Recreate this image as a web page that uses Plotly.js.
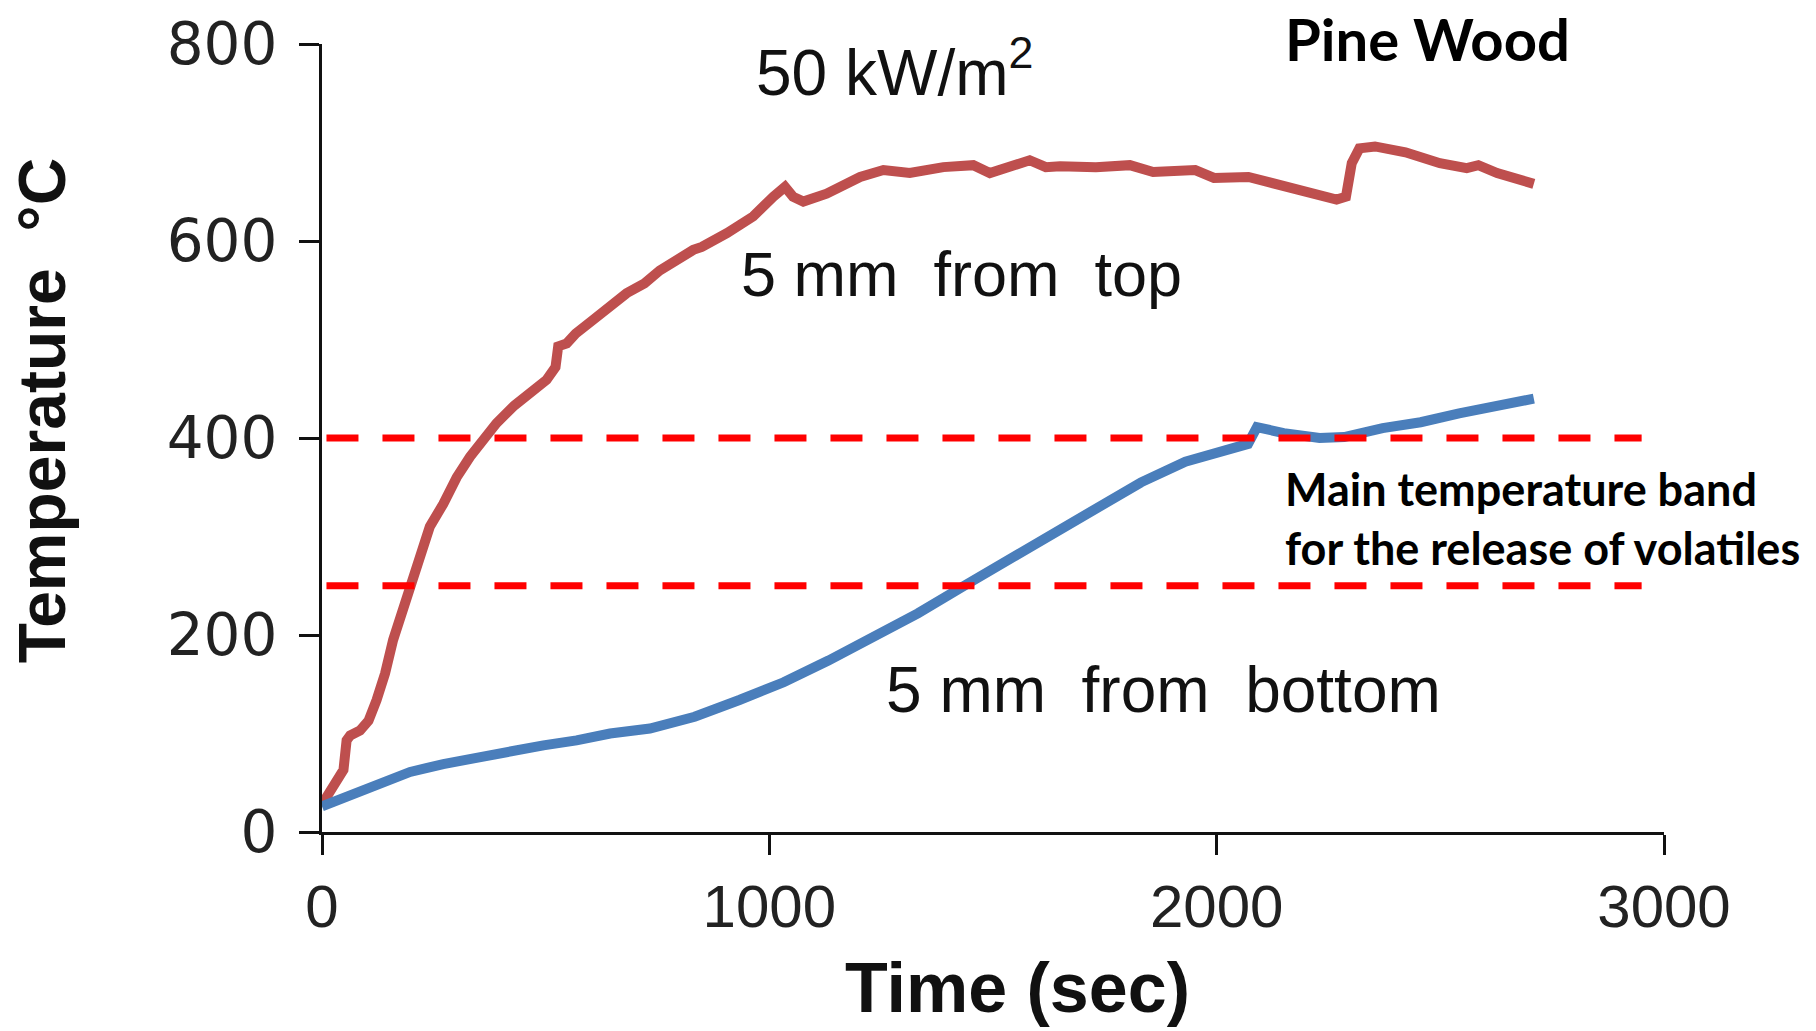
<!DOCTYPE html>
<html>
<head>
<meta charset="utf-8">
<script src="https://cdn.plot.ly/plotly-3.0.1.min.js"></script>
<style>
  html, body { margin: 0; padding: 0; background: #ffffff; }
  #chart { width: 1816px; height: 1031px; }
</style>
</head>
<body>
<div id="chart"></div>
<script>
// Thermocouple readings in pine wood under 50 kW/m2 irradiance
const topTime = [0, 48, 55, 63, 85, 104, 122, 141, 159, 178, 197, 219, 241, 271, 301, 331, 361, 390, 430, 464, 502, 522, 528, 547, 567, 606, 681, 721, 755, 830, 849, 905, 964, 1009, 1035, 1053, 1076, 1128, 1203, 1255, 1314, 1389, 1456, 1493, 1538, 1582, 1618, 1650, 1730, 1806, 1858, 1952, 1994, 2071, 2114, 2200, 2268, 2289, 2302, 2319, 2354, 2422, 2499, 2559, 2585, 2627, 2709];
const topTemp = [28, 63, 93, 98, 103, 113, 134, 161, 195, 222, 252, 283, 310, 333, 360, 381, 399, 415, 433, 445, 459, 472, 493, 496, 506, 520, 547, 557, 570, 591, 594, 608, 625, 645, 655, 645, 640, 648, 665, 672, 669, 675, 677, 669, 675, 682, 675, 676, 675, 677, 670, 672, 664, 665, 660, 650, 642, 645, 679, 694, 696, 690, 679, 674, 677, 669, 658];

const bottomTime = [0, 48, 122, 197, 271, 346, 421, 495, 569, 644, 733, 833, 933, 1032, 1132, 1232, 1332, 1432, 1531, 1631, 1731, 1831, 1930, 2030, 2070, 2090, 2150, 2230, 2285, 2371, 2456, 2542, 2627, 2709];
const bottomTemp = [26, 35, 49, 61, 69, 76, 81, 88, 93, 100, 105, 117, 134, 152, 174, 198, 222, 249, 276, 303, 330, 355, 376, 389, 394, 411, 405, 400, 401, 410, 416, 425, 433, 440];

// Volatile release band limits (°C)
const bandLimits = [250, 400];

const xTicks = [0, 1000, 2000, 3000];
const yTicks = [0, 200, 400, 600, 800];

const traces = [
  {
    x: topTime, y: topTemp, type: 'scatter', mode: 'lines',
    name: '5 mm from top',
    line: { color: '#BE4F4E', width: 10 },
    hoverinfo: 'x+y'
  },
  {
    x: bottomTime, y: bottomTemp, type: 'scatter', mode: 'lines',
    name: '5 mm from bottom',
    line: { color: '#4A7EBB', width: 10 },
    hoverinfo: 'x+y'
  }
];

const bandShapes = bandLimits.map(v => ({
  type: 'line', xref: 'x', yref: 'y',
  x0: 10, x1: 2950, y0: v, y1: v,
  line: { color: '#FF0000', width: 7, dash: '32px,24px' },
  layer: 'above'
}));

const sansFont = 'Liberation Sans, Arial, sans-serif';

const layout = {
  width: 1816, height: 1031,
  margin: { l: 322, r: 152, t: 44, b: 199 },
  paper_bgcolor: '#ffffff', plot_bgcolor: '#ffffff',
  showlegend: false,
  xaxis: {
    range: [0, 3000], tickvals: xTicks, ticktext: xTicks.map(String),
    showgrid: false, zeroline: false,
    showline: true, linecolor: '#111111', linewidth: 3,
    ticks: 'outside', ticklen: 20, tickwidth: 3, tickcolor: '#111111',
    tickfont: { family: sansFont, size: 60, color: '#222222' },
    ticklabelstandoff: 0
  },
  yaxis: {
    range: [0, 800], tickvals: yTicks, ticktext: yTicks.map(String),
    showgrid: false, zeroline: false,
    showline: true, linecolor: '#111111', linewidth: 3,
    ticks: 'outside', ticklen: 20, tickwidth: 3, tickcolor: '#111111',
    tickfont: { family: 'DejaVu Sans, sans-serif', size: 58, color: '#222222' },
    ticklabelstandoff: 10
  },
  shapes: bandShapes,
  annotations: [
    {
      text: '<b>Temperature\u00A0\u00A0°C</b>', xref: 'paper', yref: 'paper',
      x: -0.208, y: 0.535, xanchor: 'center', yanchor: 'middle', textangle: -90,
      showarrow: false, font: { family: sansFont, size: 66, color: '#111111' }
    },
    {
      text: '<b>Time (sec)</b>', xref: 'paper', yref: 'paper',
      x: 0.518, y: -0.198, xanchor: 'center', yanchor: 'middle',
      showarrow: false, font: { family: sansFont, size: 70, color: '#111111' }
    },
    {
      text: '50 kW/m<sup>2</sup>', xref: 'x', yref: 'y',
      x: 1280, y: 776, xanchor: 'center', yanchor: 'middle',
      showarrow: false, font: { family: sansFont, size: 64, color: '#111111' }
    },
    {
      text: '5 mm\u00A0 from\u00A0 top', xref: 'x', yref: 'y',
      x: 1430, y: 567, xanchor: 'center', yanchor: 'middle',
      showarrow: false, font: { family: sansFont, size: 63, color: '#111111' }
    },
    {
      text: '5 mm\u00A0 from\u00A0 bottom', xref: 'x', yref: 'y',
      x: 1882, y: 144, xanchor: 'center', yanchor: 'middle',
      showarrow: false, font: { family: sansFont, size: 64, color: '#111111' }
    },
    {
      text: '<b>Pine Wood</b>', xref: 'paper', yref: 'paper',
      x: 0.824, y: 1.053, xanchor: 'center', yanchor: 'top',
      showarrow: false, font: { family: 'Lato, sans-serif', size: 58, color: '#000000' }
    },
    {
      text: '<b>Main temperature band<br>for the release of volatiles</b>', xref: 'x', yref: 'y',
      x: 2148, y: 318, xanchor: 'left', yanchor: 'middle', align: 'left',
      showarrow: false, font: { family: 'Lato, sans-serif', size: 45, color: '#000000' }
    }
  ]
};

Plotly.newPlot('chart', traces, layout, { staticPlot: true, displayModeBar: false });
</script>
</body>
</html>
